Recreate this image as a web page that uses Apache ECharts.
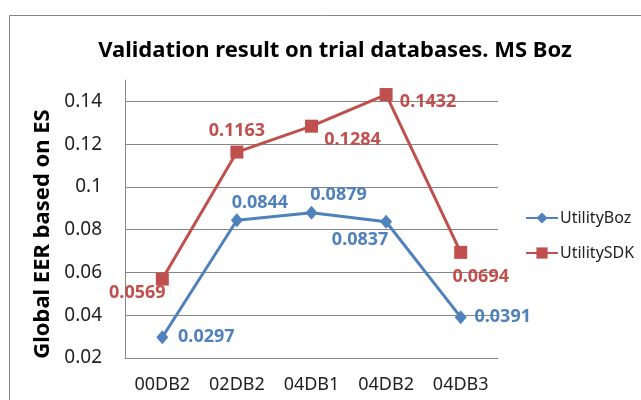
<!DOCTYPE html>
<html>
<head>
<meta charset="utf-8">
<script src="https://cdn.jsdelivr.net/npm/echarts@6/dist/echarts.min.js"></script>
<style>
html,body{margin:0;padding:0;background:#fff;}
#chart{width:641px;height:400px;}
</style>
</head>
<body>
<div id="chart"></div>
<script>
var categories = ['00DB2', '02DB2', '04DB1', '04DB2', '04DB3'];
var utilityBoz = [0.0297, 0.0844, 0.0879, 0.0837, 0.0391];
var utilitySDK = [0.0569, 0.1163, 0.1284, 0.1432, 0.0694];

// label offsets (px from the point), one per point
var bozOffsets = [[44, 0], [23, -17], [27, -18], [-26, 18], [42, 0]];
var sdkOffsets = [[-25, 14], [0, -21], [41, 14], [42, 7], [20, 25]];

var BLUE = '#4f81bd', RED = '#c0504d', GRID = '#868686';
var FONT = '"Noto Sans", sans-serif';

function withLabels(values, offsets, color) {
    return values.map(function (v, i) {
        return {
            value: v,
            label: {
                show: true, position: 'inside', offset: offsets[i],
                color: color, fontWeight: 'bold', fontSize: 18, fontFamily: FONT
            }
        };
    });
}

var myChart = echarts.init(document.getElementById('chart'));
var option = {
    animation: false,
    graphic: [{
        type: 'rect', silent: true,
        shape: {x: 9.5, y: 15.5, width: 700, height: 500},
        style: {fill: 'none', stroke: GRID, lineWidth: 1}
    }],
    title: {
        text: 'Validation result on trial databases. MS Boz',
        left: 330, top: 35, textAlign: 'center',
        textStyle: {fontFamily: FONT, fontWeight: 'bold', fontSize: 22, color: '#000'}
    },
    legend: {
        orient: 'vertical', left: 520, top: 205,
        itemWidth: 32, itemHeight: 14, itemGap: 19,
        textStyle: {fontFamily: FONT, fontSize: 16, color: '#222', padding: [0, 0, 0, -3]},
        data: ['UtilityBoz', 'UtilitySDK']
    },
    grid: {left: 125, right: 143, top: 80, bottom: 42},
    xAxis: {
        type: 'category', data: categories,
        axisLine: {lineStyle: {color: GRID}},
        axisTick: {show: false},
        axisLabel: {fontFamily: FONT, fontSize: 18, color: '#222', margin: 18}
    },
    yAxis: {
        type: 'value', min: 0.02, max: 0.15, interval: 0.02,
        name: 'Global EER based on ES', nameLocation: 'middle', nameGap: 68,
        nameTextStyle: {fontFamily: FONT, fontWeight: 'bold', fontSize: 22, color: '#000', padding: [0, 30, 0, 0]},
        axisLine: {show: true, lineStyle: {color: GRID}},
        axisTick: {show: false},
        axisLabel: {
            fontFamily: FONT, fontSize: 19, color: '#222', margin: 23, showMaxLabel: false,
            formatter: function (v) { return String(+v.toFixed(2)); }
        },
        splitLine: {show: true, showMaxLine: false, lineStyle: {color: GRID, width: 1}}
    },
    series: [
        {
            name: 'UtilityBoz', type: 'line',
            symbol: 'diamond', symbolSize: [12, 14],
            lineStyle: {color: BLUE, width: 3}, itemStyle: {color: BLUE},
            data: withLabels(utilityBoz, bozOffsets, BLUE)
        },
        {
            name: 'UtilitySDK', type: 'line',
            symbol: 'rect', symbolSize: 13,
            lineStyle: {color: RED, width: 3}, itemStyle: {color: RED},
            data: withLabels(utilitySDK, sdkOffsets, RED)
        }
    ]
};
myChart.setOption(option);
</script>
</body>
</html>
